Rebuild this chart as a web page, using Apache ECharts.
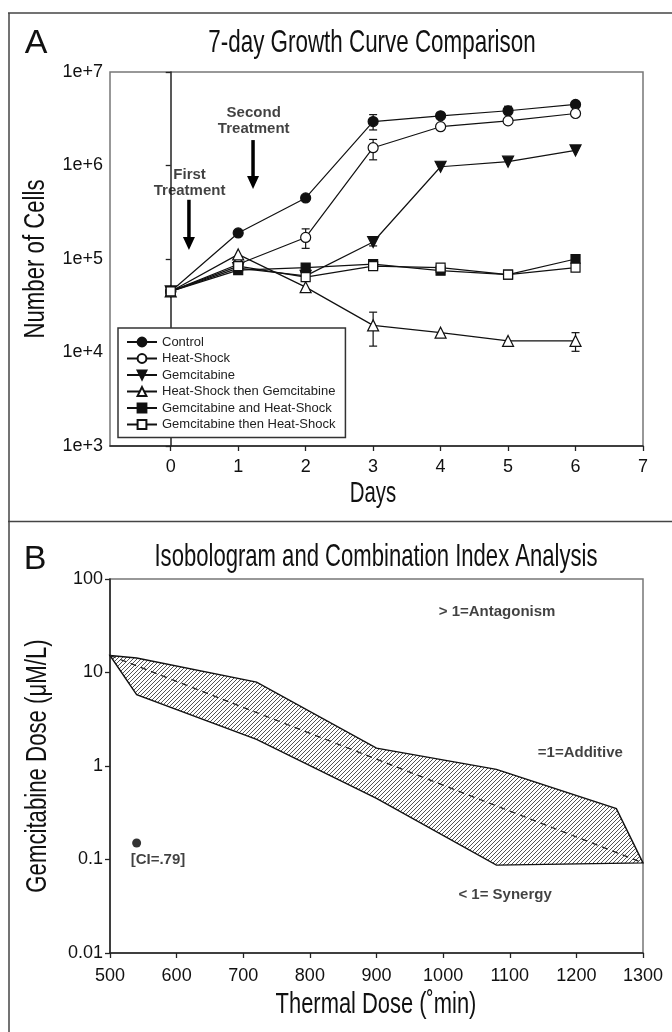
<!DOCTYPE html>
<html>
<head>
<meta charset="utf-8">
<script src="https://cdn.jsdelivr.net/npm/echarts@6/dist/echarts.min.js"></script>
<style>
html, body { margin: 0; padding: 0; background: #fff; }
#main { width: 672px; height: 1032px; }
</style>
</head>
<body>
<div id="main"></div>
<script>
// ---- panel A: growth curves (cells vs day) ----
var days = [0, 1, 2, 3, 4, 5, 6];
var dayTicks = [0, 1, 2, 3, 4, 5, 6, 7];
var cellTicks = [1e3, 1e4, 1e5, 1e6, 1e7];
var cellLabels = ['1e+3', '1e+4', '1e+5', '1e+6', '1e+7'];

var control     = [4.5e4, 1.9e5, 4.5e5, 2.95e6, 3.4e6, 3.85e6, 4.5e6];
var heatShock   = [4.5e4, 8.8e4, 1.7e5, 1.55e6, 2.6e6, 3.0e6, 3.6e6];
var gemcitabine = [4.5e4, 8.0e4, 6.6e4, 1.52e5, 9.7e5, 1.1e6, 1.45e6];
var hsThenGem   = [4.5e4, 1.12e5, 5.0e4, 1.95e4, 1.63e4, 1.33e4, 1.33e4];
var gemAndHs    = [4.5e4, 7.6e4, 8.1e4, 8.8e4, 7.5e4, 6.8e4, 1.0e5];
var gemThenHs   = [4.5e4, 8.4e4, 6.4e4, 8.4e4, 8.1e4, 6.8e4, 8.1e4];

// error bars: [day, low, high]
var controlErr   = [[3, 2.4e6, 3.5e6], [5, 3.5e6, 4.3e6]];
var heatShockErr = [[2, 1.3e5, 2.1e5], [3, 1.15e6, 1.9e6]];
var gemErr       = [[3, 1.38e5, 1.68e5]];
var hsThenGemErr = [[3, 1.17e4, 2.7e4], [6, 1.03e4, 1.63e4]];

// treatment arrows: [day, top, bottom] and their captions
var arrows = [[0.27, 4.3e5, 1.25e5], [1.22, 1.87e6, 5.6e5]];
var arrowNotes = [[0.28, 6.6e5, 'First\nTreatment'], [1.23, 3.0e6, 'Second\nTreatment']];

// ---- panel B: isobologram ----
var thermalTicks = [500, 600, 700, 800, 900, 1000, 1100, 1200, 1300];
var doseTicks = [0.01, 0.1, 1, 10, 100];
var doseLabels = ['0.01', '0.1', '1', '10', '100'];

var upperX = [500, 540, 720, 900, 1080, 1260, 1300];
var upperY = [15.2, 14.3, 7.9, 1.55, 0.92, 0.35, 0.092];
var lowerX = [500, 540, 720, 900, 1080, 1300];
var lowerY = [15.2, 5.8, 1.93, 0.45, 0.087, 0.092];
var additive = [[500, 15.2], [1300, 0.092]];
var ciPoint = [[540, 0.15]];
var notesB = [
    [1081, 45, '> 1=Antagonism'],
    [1206, 1.38, '=1=Additive'],
    [1093, 0.042, '< 1= Synergy'],
    [572, 0.1, '[CI=.79]']
];

var SANS = "'Liberation Sans', Arial, sans-serif";

// hatch pattern for the isobologram band
var hatch = document.createElement('canvas');
hatch.width = 4; hatch.height = 4;
(function () {
    var c = hatch.getContext('2d');
    c.fillStyle = '#fff';
    c.fillRect(0, 0, 4, 4);
    c.strokeStyle = '#555';
    c.lineWidth = 1;
    c.beginPath();
    c.moveTo(0, 4); c.lineTo(4, 0);
    c.moveTo(-1, 1); c.lineTo(1, -1);
    c.moveTo(3, 5); c.lineTo(5, 3);
    c.stroke();
})();

function zip(xs, ys) {
    return xs.map(function (x, i) { return [x, ys[i]]; });
}

function errRender(params, api) {
    var x = api.value(0);
    var hi = api.coord([x, api.value(2)]);
    var lo = api.coord([x, api.value(1)]);
    var w = 4;
    var st = { stroke: '#111', lineWidth: 1.2 };
    return {
        type: 'group',
        children: [
            { type: 'line', shape: { x1: hi[0], y1: hi[1], x2: lo[0], y2: lo[1] }, style: st },
            { type: 'line', shape: { x1: hi[0] - w, y1: hi[1], x2: hi[0] + w, y2: hi[1] }, style: st },
            { type: 'line', shape: { x1: lo[0] - w, y1: lo[1], x2: lo[0] + w, y2: lo[1] }, style: st }
        ]
    };
}

function errSeries(data) {
    return {
        type: 'custom', xAxisIndex: 0, yAxisIndex: 0, z: 1, silent: true,
        renderItem: errRender, data: data, encode: { x: 0, y: [1, 2] }
    };
}

function growth(name, data, symbol, filled, size, rotate) {
    return {
        name: name, type: 'line', xAxisIndex: 0, yAxisIndex: 0, z: 3,
        data: zip(days, data),
        symbol: symbol, symbolSize: size, symbolRotate: rotate || 0,
        showAllSymbol: true,
        lineStyle: { color: '#111', width: 1.2 },
        itemStyle: { color: filled ? '#111' : '#fff', borderColor: '#111', borderWidth: 1.2 }
    };
}

function tickLabel(ticks, labels) {
    return function (v) {
        for (var i = 0; i < ticks.length; i++) {
            if (Math.abs(Math.log10(v) - Math.log10(ticks[i])) < 1e-6) return labels[i];
        }
        return '';
    };
}

// condensed-looking text (face squeezed horizontally)
function narrowText(text, x, y, size, squeeze, vertical) {
    return {
        type: 'text', x: x, y: y,
        rotation: vertical ? Math.PI / 2 : 0,
        scaleX: squeeze, scaleY: 1,
        style: {
            text: text, font: size + 'px ' + SANS, fill: '#111',
            align: 'center', verticalAlign: 'middle', textAlign: 'center', textVerticalAlign: 'middle'
        }
    };
}

var axisLine = { lineStyle: { color: '#222', width: 1.5 } };
var axisTick = { inside: false, length: 5, lineStyle: { color: '#222', width: 1.3 } };
var tickFont = { fontFamily: SANS, fontSize: 18, color: '#111' };

var chart = echarts.init(document.getElementById('main'));

var option = {
    animation: false,
    backgroundColor: '#fff',
    grid: [
        { left: 110, top: 72, width: 533, height: 374, show: true, borderColor: '#777', borderWidth: 1.5, backgroundColor: 'transparent' },
        { left: 110, top: 579, width: 533, height: 374, show: true, borderColor: '#777', borderWidth: 1.5, backgroundColor: 'transparent' }
    ],
    xAxis: [
        {
            gridIndex: 0, type: 'value', min: -0.9, max: 7,
            axisLine: axisLine,
            axisTick: { show: true, length: 5, lineStyle: { color: '#222', width: 1.3 }, customValues: dayTicks },
            axisLabel: Object.assign({ customValues: dayTicks, margin: 12 }, tickFont),
            splitLine: { show: false }
        },
        {
            gridIndex: 1, type: 'value', min: 500, max: 1300, interval: 100,
            axisLine: axisLine, axisTick: axisTick,
            axisLabel: Object.assign({ margin: 14, formatter: function (v) { return String(v); } }, tickFont),
            splitLine: { show: false }
        }
    ],
    yAxis: [
        {
            gridIndex: 0, type: 'log', logBase: 10, min: 1e3, max: 1e7,
            axisLine: axisLine, axisTick: axisTick,
            axisLabel: Object.assign({ formatter: tickLabel(cellTicks, cellLabels), margin: 7 }, tickFont),
            splitLine: { show: false }, minorTick: { show: false }
        },
        {
            gridIndex: 1, type: 'log', logBase: 10, min: 0.01, max: 100,
            axisLine: axisLine, axisTick: axisTick,
            axisLabel: Object.assign({ formatter: tickLabel(doseTicks, doseLabels), margin: 7 }, tickFont),
            splitLine: { show: false }, minorTick: { show: false }
        }
    ],
    legend: {
        data: ['Control', 'Heat-Shock', 'Gemcitabine', 'Heat-Shock then Gemcitabine',
               'Gemcitabine and Heat-Shock', 'Gemcitabine then Heat-Shock'],
        orient: 'vertical', left: 118, top: 328,
        itemWidth: 30, itemHeight: 11, itemGap: 2.5,
        padding: [7, 10, 6, 8],
        borderColor: '#333', borderWidth: 1.5, backgroundColor: '#fff',
        textStyle: { fontFamily: SANS, fontSize: 13, color: '#222', lineHeight: 14 }
    },
    graphic: [
        { type: 'line', shape: { x1: 8, y1: 13, x2: 672, y2: 13 }, style: { stroke: '#444', lineWidth: 1.5 } },
        { type: 'line', shape: { x1: 9, y1: 13, x2: 9, y2: 1032 }, style: { stroke: '#444', lineWidth: 1.5 } },
        { type: 'line', shape: { x1: 8, y1: 521.5, x2: 672, y2: 521.5 }, style: { stroke: '#444', lineWidth: 1.5 } },
        narrowText('A', 36, 44, 34, 1),
        narrowText('B', 35, 560, 34, 1),
        narrowText('7-day Growth Curve Comparison', 372, 43, 32, 0.7),
        narrowText('Isobologram and Combination Index Analysis', 376, 557, 32, 0.69),
        narrowText('Number of Cells', 36, 259, 30, 0.74, true),
        narrowText('Days', 373, 494, 30, 0.68),
        narrowText('Gemcitabine Dose (μM/L)', 38, 766, 30, 0.74, true),
        narrowText('Thermal Dose (˚min)', 376, 1005, 30, 0.73)
    ],
    series: [
        errSeries(controlErr),
        errSeries(heatShockErr),
        errSeries(gemErr),
        errSeries(hsThenGemErr),
        growth('Control', control, 'circle', true, 10),
        growth('Heat-Shock', heatShock, 'circle', false, 10),
        growth('Gemcitabine', gemcitabine, 'triangle', true, 11, 180),
        growth('Heat-Shock then Gemcitabine', hsThenGem, 'triangle', false, 11),
        growth('Gemcitabine and Heat-Shock', gemAndHs, 'rect', true, 9),
        growth('Gemcitabine then Heat-Shock', gemThenHs, 'rect', false, 9),
        {
            type: 'custom', xAxisIndex: 0, yAxisIndex: 0, silent: true, z: 4,
            data: arrows, encode: { x: 0, y: [1, 2] },
            renderItem: function (params, api) {
                var top = api.coord([api.value(0), api.value(1)]);
                var bot = api.coord([api.value(0), api.value(2)]);
                var hw = 6, hh = 13;
                return {
                    type: 'group',
                    children: [
                        { type: 'line', shape: { x1: top[0], y1: top[1], x2: bot[0], y2: bot[1] - hh + 2 }, style: { stroke: '#000', lineWidth: 3.5 } },
                        { type: 'polygon', shape: { points: [[bot[0] - hw, bot[1] - hh], [bot[0] + hw, bot[1] - hh], [bot[0], bot[1]]] }, style: { fill: '#000' } }
                    ]
                };
            }
        },
        {
            type: 'scatter', xAxisIndex: 0, yAxisIndex: 0, symbolSize: 0, silent: true, z: 4,
            data: arrowNotes.map(function (n) { return { value: [n[0], n[1]], name: n[2] }; }),
            label: {
                show: true, position: 'inside', formatter: '{b}',
                fontFamily: SANS, fontWeight: 'bold', fontSize: 15, lineHeight: 16, color: '#111', align: 'center'
            }
        },
        // panel B
        {
            type: 'custom', xAxisIndex: 1, yAxisIndex: 1, silent: true, z: 2,
            data: [[upperX[0], upperY[0]]],
            renderItem: function (params, api) {
                var pts = [];
                for (var i = 0; i < upperX.length; i++) pts.push(api.coord([upperX[i], upperY[i]]));
                for (var j = lowerX.length - 1; j >= 0; j--) pts.push(api.coord([lowerX[j], lowerY[j]]));
                return {
                    type: 'polygon', shape: { points: pts },
                    style: { fill: { image: hatch, repeat: 'repeat' }, stroke: '#111', lineWidth: 1.4 }
                };
            }
        },
        {
            type: 'line', xAxisIndex: 1, yAxisIndex: 1, data: additive, symbol: 'none', z: 3,
            lineStyle: { color: '#222', width: 1.3, type: [6, 5] }
        },
        {
            type: 'scatter', xAxisIndex: 1, yAxisIndex: 1, data: ciPoint, symbol: 'circle', symbolSize: 9,
            itemStyle: { color: '#000' }, z: 3
        },
        {
            type: 'scatter', xAxisIndex: 1, yAxisIndex: 1, symbolSize: 0, silent: true, z: 4,
            data: notesB.map(function (n) { return { value: [n[0], n[1]], name: n[2] }; }),
            label: {
                show: true, position: 'inside', formatter: '{b}',
                fontFamily: SANS, fontWeight: 'bold', fontSize: 15, color: '#111', align: 'center'
            }
        }
    ]
};

chart.setOption(option);
</script>
</body>
</html>
